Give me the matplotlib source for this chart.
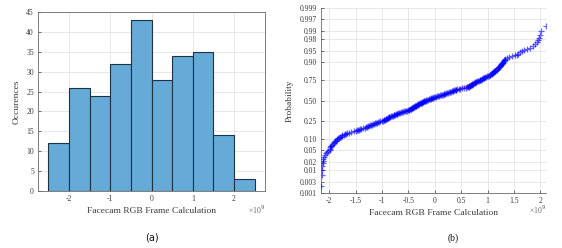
import numpy as np
import matplotlib
matplotlib.use("Agg")
import matplotlib.pyplot as plt
from statistics import NormalDist

plt.rcParams['axes.unicode_minus'] = False

# ---------------- data ----------------
bin_edges = [-2.5, -2.0, -1.5, -1.0, -0.5, 0.0, 0.5, 1.0, 1.5, 2.0, 2.5]
counts = [12, 26, 24, 32, 43, 28, 34, 35, 14, 3]

# sorted sample values (x 1e9)
sample = [
    -2.15, -2.14, -2.13, -2.13, -2.12, -2.12, -2.11, -2.10, -2.08, -2.06, -2.04, -2.02,
    -1.99, -1.99, -1.98, -1.97, -1.96, -1.95, -1.93, -1.92, -1.91, -1.89, -1.88, -1.86,
    -1.85, -1.83, -1.81, -1.80, -1.78, -1.76, -1.75, -1.73, -1.70, -1.68, -1.66, -1.62,
    -1.58, -1.53,
    -1.49, -1.47, -1.46, -1.44, -1.42, -1.39, -1.36, -1.33, -1.31, -1.29, -1.27, -1.25,
    -1.23, -1.21, -1.19, -1.17, -1.15, -1.13, -1.11, -1.09, -1.07, -1.05, -1.03, -1.01,
    -0.99, -0.97, -0.96, -0.95, -0.93, -0.92, -0.91, -0.89, -0.88, -0.87,
    -0.86, -0.84, -0.83, -0.81, -0.80, -0.78, -0.77, -0.75, -0.74, -0.72,
    -0.71, -0.69, -0.68, -0.66, -0.64, -0.62, -0.60, -0.58, -0.56, -0.55,
    -0.53, -0.51,
    -0.49, -0.48, -0.47, -0.46, -0.45, -0.44, -0.43, -0.42, -0.41, -0.40,
    -0.39, -0.38, -0.37, -0.36, -0.35, -0.34, -0.33, -0.32, -0.31, -0.30,
    -0.29, -0.28, -0.27, -0.26, -0.25, -0.24, -0.23, -0.22, -0.21, -0.20,
    -0.19, -0.17, -0.16, -0.14, -0.13, -0.11, -0.10, -0.08, -0.07, -0.05,
    -0.04, -0.03, -0.01,
    0.01, 0.03, 0.05, 0.06, 0.08, 0.10, 0.11, 0.13, 0.15, 0.17,
    0.18, 0.20, 0.22, 0.23, 0.25, 0.27, 0.29, 0.30, 0.32, 0.34,
    0.35, 0.37, 0.38, 0.40, 0.41, 0.43, 0.45, 0.48,
    0.52, 0.56, 0.59, 0.61, 0.63, 0.64, 0.65, 0.66, 0.67, 0.68,
    0.69, 0.70, 0.71, 0.72, 0.73, 0.75, 0.76, 0.77, 0.78, 0.79,
    0.80, 0.82, 0.83, 0.85, 0.86, 0.88, 0.89, 0.90, 0.92, 0.93,
    0.94, 0.96, 0.97, 0.99,
    1.01, 1.02, 1.04, 1.05, 1.06, 1.08, 1.09, 1.10, 1.11, 1.12,
    1.13, 1.14, 1.15, 1.16, 1.17, 1.18, 1.19, 1.20, 1.21, 1.22,
    1.23, 1.24, 1.25, 1.26, 1.27, 1.28, 1.29, 1.30, 1.31, 1.32,
    1.33, 1.34, 1.36, 1.40, 1.46,
    1.52, 1.55, 1.58, 1.62, 1.66, 1.70, 1.74, 1.80, 1.86, 1.90, 1.93, 1.95, 1.97, 1.99,
    2.02, 2.10, 2.30,
]

hist_xticks = [-2, -1, 0, 1, 2]
hist_yticks = [0, 5, 10, 15, 20, 25, 30, 35, 40, 45]
prob_xticks = [-2, -1.5, -1, -0.5, 0, 0.5, 1, 1.5, 2]
prob_xticklabels = ["-2", "-1.5", "-1", "-0.5", "0", "0.5", "1", "1.5", "2"]
prob_yticks = [0.001, 0.003, 0.01, 0.02, 0.05, 0.10, 0.25, 0.50, 0.75,
               0.90, 0.95, 0.98, 0.99, 0.997, 0.999]
prob_yticklabels = ["0.001", "0.003", "0.01", "0.02", "0.05", "0.10", "0.25", "0.50",
                    "0.75", "0.90", "0.95", "0.98", "0.99", "0.997", "0.999"]

# ---------------- figure ----------------
W, H = 562, 248
fig = plt.figure(figsize=(W / 100, H / 100), dpi=100)

serif = ["Liberation Serif", "DejaVu Serif"]
tick_fs = 5.5
lab_fs = 6.8
txt_col = "#3a3a3a"
grid_col = "#e3e3e3"
spine_col = "#6a6a6a"

def px_axes(x0, x1, ytop, ybot):
    return fig.add_axes([x0 / W, (H - ybot) / H, (x1 - x0) / W, (ybot - ytop) / H])

# ---- (a) histogram ----
ax1 = px_axes(38, 265, 12, 191)
lefts = bin_edges[:-1]
widths = np.diff(bin_edges)
ax1.bar(lefts, counts, width=widths, align="edge", color="#66aad7",
        edgecolor="#1d3347", linewidth=0.8, zorder=2)
ax1.set_xlim(-2.75, 2.75)
ax1.set_ylim(0, 45)
ax1.set_xticks(hist_xticks)
ax1.set_xticklabels([str(t) for t in hist_xticks], family=serif)
ax1.set_yticks(hist_yticks)
ax1.set_yticklabels([str(t) for t in hist_yticks], family=serif)
ax1.grid(True, color=grid_col, linewidth=0.6, zorder=0)
ax1.set_axisbelow(True)
ax1.set_xlabel("Facecam RGB Frame Calculation", family=serif, fontsize=lab_fs,
               color=txt_col, labelpad=3)
ax1.set_ylabel("Occurences", family=serif, fontsize=lab_fs, color=txt_col, labelpad=4)
ax1.text(1.0, -0.106, "×10$^9$", transform=ax1.transAxes, ha="right", va="center",
         fontsize=5.5, color="#666666", family=serif)

# ---- (b) normal probability plot ----
nd = NormalDist()
def fwd(p):
    p = np.clip(np.asarray(p, dtype=float), 1e-9, 1 - 1e-9)
    return np.vectorize(nd.inv_cdf)(p) if p.size else p
def inv(z):
    z = np.asarray(z, dtype=float)
    return np.vectorize(nd.cdf)(z) if z.size else z

ax2 = px_axes(321, 546, 8.3, 192.7)
ax2.set_yscale("function", functions=(fwd, inv))
xs = np.sort(np.array(sample))
n = len(xs)
probs = (np.arange(1, n + 1) - 0.5) / n
q1, q3 = np.percentile(xs, [25, 75])
ax2.plot([q1, q3], [0.25, 0.75], color="red", linewidth=0.8, alpha=0.6, zorder=2)
ax2.plot(xs, probs, linestyle="none", marker="+", markersize=4, markeredgewidth=0.9,
         color="#0000ff", alpha=0.6, zorder=3)
ax2.set_xlim(-2.157, 2.108)
ax2.set_ylim(0.001, 0.999)
ax2.set_xticks(prob_xticks)
ax2.set_xticklabels(prob_xticklabels, family=serif)
ax2.set_yticks(prob_yticks)
ax2.set_yticklabels(prob_yticklabels, family=serif)
ax2.yaxis.set_minor_locator(matplotlib.ticker.NullLocator())
ax2.grid(True, color=grid_col, linewidth=0.6, zorder=0)
ax2.set_axisbelow(True)
ax2.spines["top"].set_visible(False)
ax2.spines["right"].set_visible(False)
ax2.set_xlabel("Facecam RGB Frame Calculation", family=serif, fontsize=lab_fs,
               color=txt_col, labelpad=3)
ax2.set_ylabel("Probability", family=serif, fontsize=lab_fs, color=txt_col, labelpad=4)
ax2.text(1.0, -0.094, "×10$^9$", transform=ax2.transAxes, ha="right", va="center",
         fontsize=5.5, color="#666666", family=serif)

for ax in (ax1, ax2):
    ax.tick_params(direction="in", length=2, width=0.5, labelsize=tick_fs,
                   colors=txt_col, pad=3)
    for s in ax.spines.values():
        s.set_color(spine_col)
        s.set_linewidth(0.6)

fig.text(152 / W, 1 - 238 / H, "(a)", ha="center", va="center", fontsize=7, color="#111111")
fig.text(453 / W, 1 - 238 / H, "(b)", ha="center", va="center", fontsize=7,
         color="#111111", family=serif)

fig.savefig("out.png", dpi=100, facecolor="white")
